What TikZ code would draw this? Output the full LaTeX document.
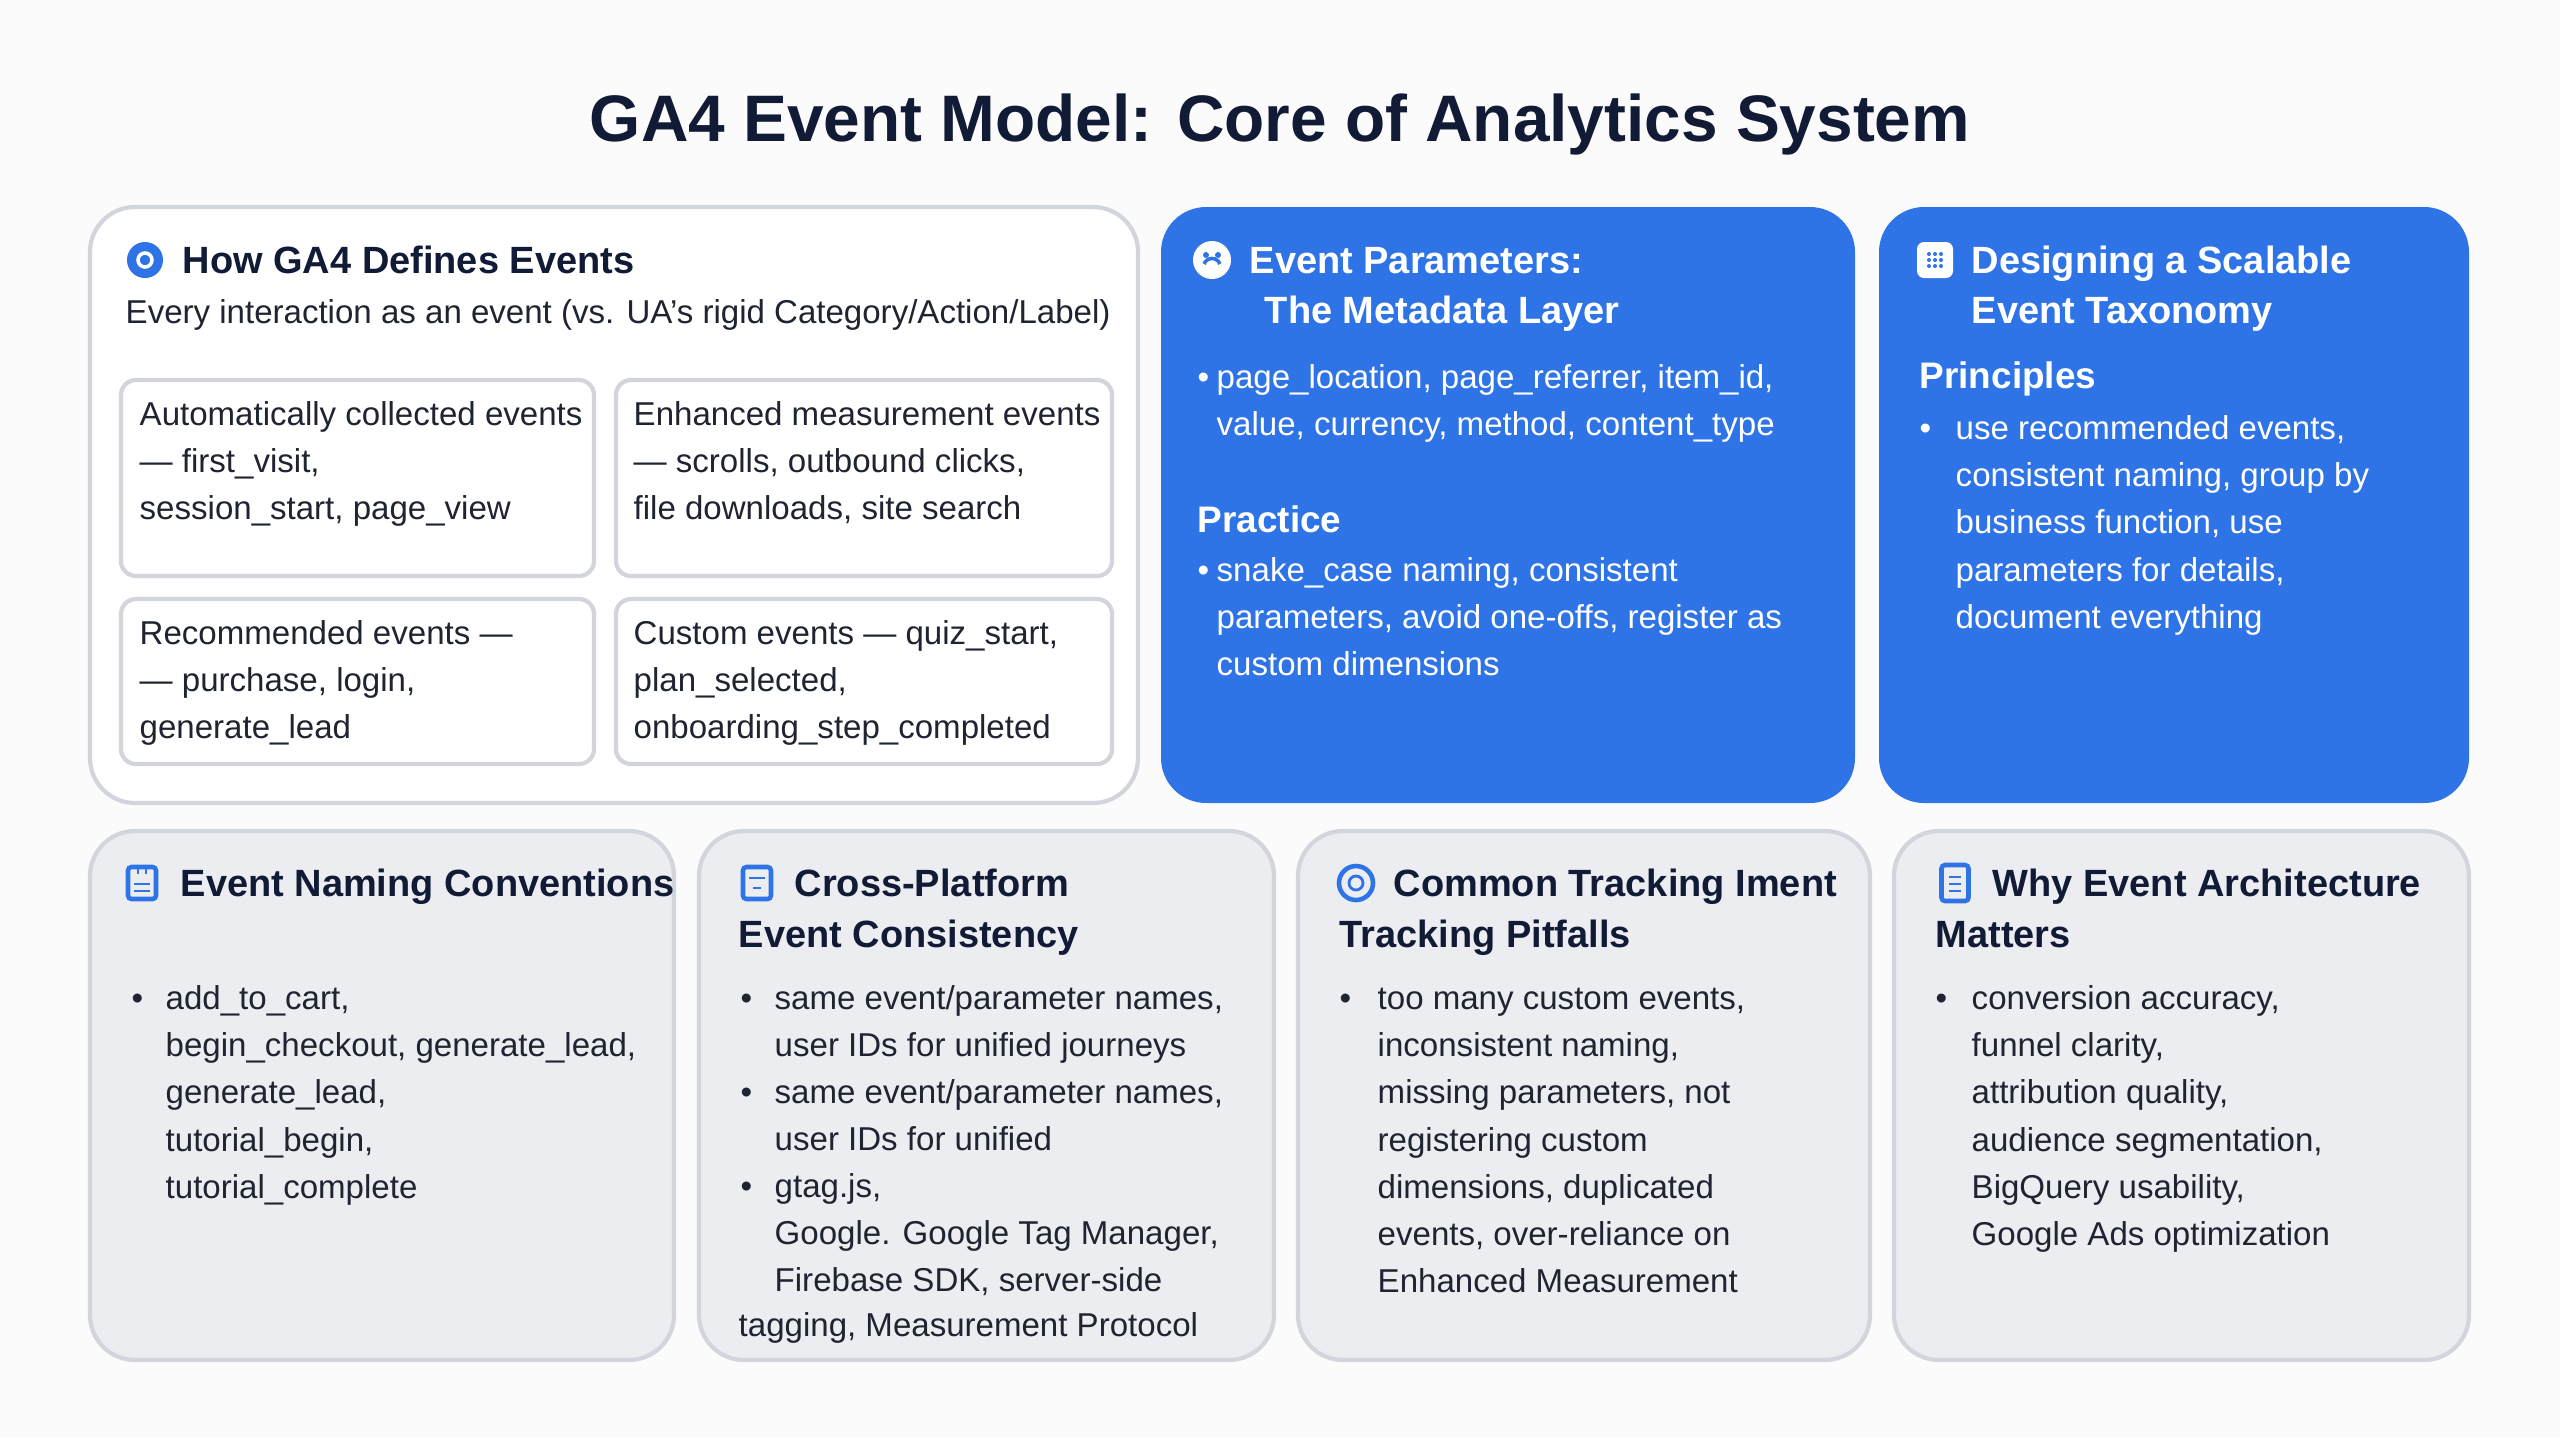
\documentclass[tikz,border=0pt]{standalone}
\usepackage{fontspec}
\setmainfont{Liberation Sans}
\usetikzlibrary{positioning}
\definecolor{navy}{HTML}{111B36}
\definecolor{gablue}{HTML}{2F74E6}
\definecolor{txt}{HTML}{1E2430}
\definecolor{bord}{HTML}{D2D5DB}
\definecolor{grayfill}{HTML}{ECEDF1}
\newcommand{\bodyfont}{\fontsize{9.4}{13.4}\selectfont}
\newcommand{\headfont}{\fontsize{10.8}{14.2}\selectfont\bfseries}

\begin{document}
\begin{tikzpicture}[x=0.01cm,y=-0.01cm,
	panel/.style={draw=bord,line width=1.2pt,rounded corners=0.45cm},
	whitepanel/.style={panel,fill=white},
	bluepanel/.style={draw=none,fill=gablue,rounded corners=0.45cm},
	graypanel/.style={panel,fill=grayfill},
	subbox/.style={draw=bord,line width=1.2pt,fill=white,rounded corners=0.15cm},
	body/.style={anchor=north west,inner sep=0pt,align=left,font=\bodyfont,text=txt},
	wbody/.style={body,text=white},
	head/.style={anchor=north west,inner sep=0pt,align=left,font=\headfont,text=navy},
	whead/.style={head,text=white},
	dot/.style={anchor=north west,inner sep=0pt,font=\bodyfont,text=txt},
	wdot/.style={dot,text=white},
	icon/.style={draw=gablue,line width=1.3pt,rounded corners=1pt,minimum width=0.28cm,minimum height=0.32cm,inner sep=0pt}
]
\useasboundingbox (0,0) rectangle (2560,1438);
\fill[white!97!gray] (0,0) rectangle (2560,1438);

% title
\node (title) at (1280,124) [font=\fontsize{18.7}{22}\selectfont\bfseries,text=navy] {GA4 Event Model: Core of Analytics System};

% top row panels
\draw[whitepanel] (90,207) rectangle (1138,803);
\draw[bluepanel] (1161,207) rectangle (1855,803);
\draw[bluepanel] (1879,207) rectangle (2469,803);

% panel 1
\node (ic1) at (145,260) [circle,fill=gablue,minimum size=0.36cm,inner sep=0pt] {};
\node at (ic1) [circle,draw=white,line width=1pt,minimum size=0.14cm,inner sep=0pt] {};
\node (h1) at (182,238) [head] {\strut How GA4 Defines Events};
\node (s1) at (125,290) [body] {\strut Every interaction as an event (vs. UA's rigid Category/Action/Label)};
\draw[subbox] (121,380) rectangle (594,576);
\draw[subbox] (616,380) rectangle (1112,576);
\draw[subbox] (121,599) rectangle (594,764);
\draw[subbox] (616,599) rectangle (1112,764);
\node (auto) at (139,392) [body] {\strut Automatically collected events\\— first\_visit,\\session\_start, page\_view};
\node (enh) at (633,392) [body] {\strut Enhanced measurement events\\— scrolls, outbound clicks,\\file downloads, site search};
\node (rec) at (139,611) [body] {\strut Recommended events —\\— purchase, login,\\generate\_lead};
\node (cust) at (633,611) [body] {\strut Custom events — quiz\_start,\\plan\_selected,\\onboarding\_step\_completed};

% panel 2
\node (ic2) at (1212,260) [circle,fill=white,minimum size=0.38cm,inner sep=0pt] {};
\fill[gablue] (1206,255) circle (3) (1218,255) circle (3);
\draw[gablue,line width=1pt] (1204,264) arc (200:340:8.5);
\node (h2) at (1249,238) [whead] {\strut Event Parameters:\\\hspace{0.4em}The Metadata Layer};
\node (b2a) at (1197,355) [wdot] {\strut\textbullet};
\node (t2a) at (1216,355) [wbody] {\strut page\_location, page\_referrer, item\_id,\\value, currency, method, content\_type};
\node (pr2) at (1197,499) [whead,font=\fontsize{10.5}{13.4}\selectfont\bfseries] {\strut Practice};
\node (b2b) at (1197,548) [wdot] {\strut\textbullet};
\node (t2b) at (1216,548) [wbody] {\strut snake\_case naming, consistent\\parameters, avoid one-offs, register as\\custom dimensions};

% panel 3
\node (ic3) at (1935,260) [rounded corners=2pt,fill=white,minimum size=0.36cm,inner sep=0pt] {};
\foreach \i in {-6,0,6} \foreach \j in {-6,0,6} \fill[gablue] (1935+\i,260+\j) circle (2);
\node (h3) at (1971,238) [whead] {\strut Designing a Scalable\\Event Taxonomy};
\node (pr3) at (1919,355) [whead,font=\fontsize{10.5}{13.4}\selectfont\bfseries] {\strut Principles};
\node (b3) at (1919,406) [wdot] {\strut\textbullet};
\node (t3) at (1955,406) [wbody] {\strut use recommended events,\\consistent naming, group by\\ business function, use\\parameters for details,\\document everything};

% bottom row panels
\draw[graypanel] (90,831) rectangle (674,1360);
\draw[graypanel] (699,831) rectangle (1274,1360);
\draw[graypanel] (1298,831) rectangle (1870,1360);
\draw[graypanel] (1894,831) rectangle (2469,1360);

% naming conventions
\node (ic4) at (142,883) [icon] {};
\draw[gablue,line width=0.8pt] (134,884) -- (150,884) (134,891) -- (150,891) (138,868) -- (138,874) (146,868) -- (146,874);
\node (h4) at (180,861) [head] {\strut Event Naming Conventions};
\node (b4) at (131,976) [dot] {\strut\textbullet};
\node (t4) at (165,976) [body] {\strut add\_to\_cart,\\begin\_checkout, generate\_lead,\\generate\_lead,\\tutorial\_begin,\\tutorial\_complete};

% cross-platform
\node (ic5) at (757,883) [icon] {};
\draw[gablue,line width=0.8pt] (749,878) -- (765,878) (753,888) -- (761,888);
\node (h5) at (794,861) [head] {\strut Cross-Platform};
\node (h5b) at (738,912) [head] {\strut Event Consistency};
\node (b5a) at (740,976) [dot] {\strut\textbullet};
\node (t5a) at (774,976) [body] {\strut same event/parameter names,\\user IDs for unified journeys};
\node (b5b) at (740,1070) [dot] {\strut\textbullet};
\node (t5b) at (774,1070) [body] {\strut same event/parameter names,\\user IDs for unified};
\node (b5c) at (740,1164) [dot] {\strut\textbullet};
\node (t5c) at (774,1164) [body] {\strut gtag.js,\\Google. Google Tag Manager,\\Firebase SDK, server-side};
\node (t5d) at (738,1303) [body] {\strut tagging, Measurement Protocol};

% pitfalls
\node (ic6) at (1356,883) [circle,draw=gablue,line width=1.3pt,minimum size=0.34cm,inner sep=0pt] {};
\node at (ic6) [circle,draw=gablue,line width=0.8pt,minimum size=0.14cm,inner sep=0pt] {};
\node (h6) at (1393,861) [head] {\strut Common Tracking Iment};
\node (h6b) at (1339,912) [head] {\strut Tracking Pitfalls};
\node (b6) at (1339,976) [dot] {\strut\textbullet};
\node (t6) at (1377,976) [body] {\strut too many custom events,\\inconsistent naming,\\missing parameters, not\\registering custom\\dimensions, duplicated\\events, over-reliance on\\Enhanced Measurement};

% why architecture
\node (ic7) at (1955,883) [icon,minimum height=0.36cm,minimum width=0.27cm] {};
\draw[gablue,line width=0.8pt] (1949,877) -- (1961,877) (1949,884) -- (1961,884) (1949,891) -- (1961,891);
\node (h7) at (1992,861) [head] {\strut Why Event Architecture};
\node (h7b) at (1935,912) [head] {\strut Matters};
\node (b7) at (1935,976) [dot] {\strut\textbullet};
\node (t7) at (1971,976) [body] {\strut conversion accuracy,\\funnel clarity,\\attribution quality,\\audience segmentation,\\BigQuery usability,\\Google Ads optimization};
\end{tikzpicture}
\end{document}
